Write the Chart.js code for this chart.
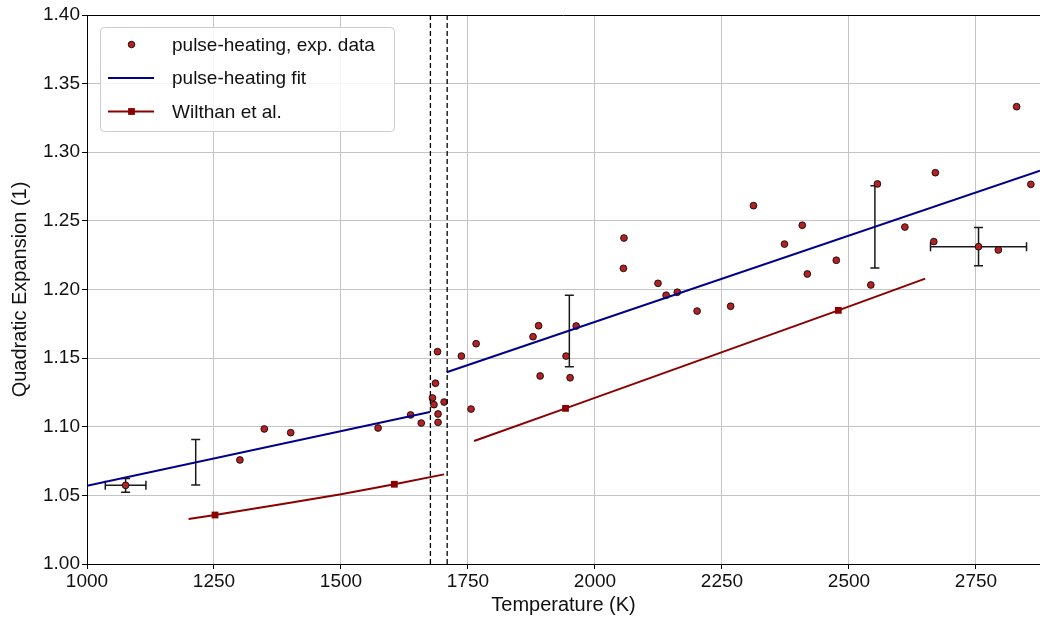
<!DOCTYPE html>
<html>
<head>
<meta charset="utf-8">
<title>Quadratic expansion</title>
<script src="https://cdn.jsdelivr.net/npm/chart.js@4.4.1/dist/chart.umd.min.js"></script>
<style>
html, body { margin: 0; padding: 0; background: #fff; }
#wrap { width: 1040px; height: 619px; }
</style>
</head>
<body>
<div id="wrap"><canvas id="expansionChart" width="1040" height="619"></canvas></div>
<script>
// pulse-heating, experimental points
var expT = [1076, 1301, 1349, 1401, 1573, 1637, 1658, 1680, 1683, 1686, 1690, 1691, 1691, 1703, 1737, 1756, 1766,
            1878, 1889, 1892, 1943, 1951, 1963, 2057, 2056, 2124, 2140, 2162, 2201, 2267, 2312, 2373, 2408, 2418,
            2475, 2543, 2556, 2610, 2667, 2670, 2755, 2794, 2830, 2858];
var expQ = [1.0573, 1.0758, 1.0984, 1.0957, 1.0991, 1.1086, 1.1027, 1.1210, 1.1161, 1.1317, 1.1547, 1.1093, 1.1032,
            1.1180, 1.1515, 1.1129, 1.1605, 1.1656, 1.1736, 1.1370, 1.1515, 1.1357, 1.1734, 1.2375, 1.2154, 1.2045,
            1.1958, 1.1980, 1.1843, 1.1878, 1.2611, 1.2331, 1.2468, 1.2113, 1.2213, 1.2033, 1.2769, 1.2455, 1.2349,
            1.2851, 1.2312, 1.2288, 1.3332, 1.2766];

// uncertainty bars
var errT  = [1076, 1214, 1949.5, 2551, 2755];
var errQ  = [1.0573, 1.0742, 1.1698, 1.2456, 1.2312];
var errDT = [40, 0, 0, 0, 94.5];
var errDQ = [0.005, 0.0166, 0.026, 0.030, 0.0139];

// pulse-heating fit (solid / liquid)
var fitT1 = [1000, 1675];
var fitQ1 = [1.0570, 1.1107];
var fitT2 = [1708, 2876];
var fitQ2 = [1.1397, 1.2866];

// Wilthan et al.
var wilT1 = [1200, 1252, 1300, 1400, 1500, 1605, 1703];
var wilQ1 = [1.0328, 1.0357, 1.0386, 1.0447, 1.0508, 1.0581, 1.0653];
var wilT2 = [1762, 1942, 2479, 2650];
var wilQ2 = [1.0896, 1.1134, 1.1848, 1.2079];
var wilMarkT = [1252, 1605, 1942, 2479];

// solidus / liquidus
var transT = [1676, 1709];

var legendLabels = ['pulse-heating, exp. data', 'pulse-heating fit', 'Wilthan et al.'];

function pts(xs, ys) {
    return xs.map(function (x, i) { return { x: x, y: ys[i] }; });
}

var FONT = '"Liberation Sans", Arial, sans-serif';
var RED = '#b22222', BLUE = '#00008b', DARKRED = '#8b0000';

var errorBarPlugin = {
    id: 'errorBars',
    beforeDatasetsDraw: function (chart) {
        var ctx = chart.ctx, xs = chart.scales.x, ys = chart.scales.y;
        var cap = 4.5;
        ctx.save();
        ctx.strokeStyle = '#1a1a1a';
        ctx.lineWidth = 1.5;
        for (var i = 0; i < errT.length; i++) {
            var px = xs.getPixelForValue(errT[i]);
            var py = ys.getPixelForValue(errQ[i]);
            ctx.beginPath();
            if (errDQ[i] > 0) {
                var y1 = ys.getPixelForValue(errQ[i] + errDQ[i]);
                var y2 = ys.getPixelForValue(errQ[i] - errDQ[i]);
                ctx.moveTo(px, y1); ctx.lineTo(px, y2);
                ctx.moveTo(px - cap, y1); ctx.lineTo(px + cap, y1);
                ctx.moveTo(px - cap, y2); ctx.lineTo(px + cap, y2);
            }
            if (errDT[i] > 0) {
                var x1 = xs.getPixelForValue(errT[i] - errDT[i]);
                var x2 = xs.getPixelForValue(errT[i] + errDT[i]);
                ctx.moveTo(x1, py); ctx.lineTo(x2, py);
                ctx.moveTo(x1, py - cap); ctx.lineTo(x1, py + cap);
                ctx.moveTo(x2, py - cap); ctx.lineTo(x2, py + cap);
            }
            ctx.stroke();
        }
        ctx.restore();
    }
};

var frameLegendPlugin = {
    id: 'frameLegend',
    afterDraw: function (chart) {
        var ctx = chart.ctx, a = chart.chartArea;
        ctx.save();
        // top spine
        ctx.strokeStyle = '#000';
        ctx.lineWidth = 1;
        ctx.beginPath();
        ctx.moveTo(a.left, a.top + 0.5); ctx.lineTo(a.right, a.top + 0.5);
        ctx.stroke();

        // legend box
        var bx = 100.5, by = 27.5, bw = 294, bh = 104, r = 4;
        ctx.beginPath();
        ctx.moveTo(bx + r, by);
        ctx.arcTo(bx + bw, by, bx + bw, by + bh, r);
        ctx.arcTo(bx + bw, by + bh, bx, by + bh, r);
        ctx.arcTo(bx, by + bh, bx, by, r);
        ctx.arcTo(bx, by, bx + bw, by, r);
        ctx.closePath();
        ctx.fillStyle = 'rgba(255,255,255,0.85)';
        ctx.fill();
        ctx.strokeStyle = '#cccccc';
        ctx.stroke();

        var rows = [44.5, 78, 111.5];
        // exp. data marker
        ctx.beginPath();
        ctx.arc(131.5, rows[0], 3.3, 0, Math.PI * 2);
        ctx.fillStyle = RED; ctx.fill();
        ctx.strokeStyle = '#000'; ctx.lineWidth = 0.8; ctx.stroke();
        // fit line
        ctx.lineWidth = 2;
        ctx.strokeStyle = BLUE;
        ctx.beginPath(); ctx.moveTo(108, rows[1]); ctx.lineTo(154, rows[1]); ctx.stroke();
        // Wilthan line + square
        ctx.strokeStyle = DARKRED;
        ctx.beginPath(); ctx.moveTo(108, rows[2]); ctx.lineTo(154, rows[2]); ctx.stroke();
        ctx.fillStyle = DARKRED;
        ctx.fillRect(131.5 - 3.4, rows[2] - 3.4, 6.8, 6.8);

        ctx.fillStyle = '#111';
        ctx.font = '19px ' + FONT;
        ctx.textBaseline = 'middle';
        ctx.textAlign = 'left';
        for (var i = 0; i < legendLabels.length; i++) {
            ctx.fillText(legendLabels[i], 172, rows[i] + 1);
        }
        ctx.restore();
    }
};

var dashStyle = {
    borderColor: '#000', borderWidth: 1.3, borderDash: [5, 3],
    pointRadius: 0, showLine: true, fill: false
};

var ctx1 = document.getElementById('expansionChart').getContext('2d');
var expansionChart = new Chart(ctx1, {
    type: 'scatter',
    data: {
        datasets: [
            Object.assign({ data: pts([transT[0], transT[0]], [1.0, 1.4]) }, dashStyle),
            Object.assign({ data: pts([transT[1], transT[1]], [1.0, 1.4]) }, dashStyle),
            {
                label: legendLabels[2],
                data: pts(wilT1, wilQ1),
                showLine: true,
                borderColor: DARKRED, backgroundColor: DARKRED, borderWidth: 2,
                pointStyle: 'rect',
                pointRadius: function (c) { return wilMarkT.indexOf(c.raw.x) >= 0 ? 4.8 : 0; },
                pointBorderWidth: 0
            },
            {
                data: pts(wilT2, wilQ2),
                showLine: true,
                borderColor: DARKRED, backgroundColor: DARKRED, borderWidth: 2,
                pointStyle: 'rect',
                pointRadius: function (c) { return wilMarkT.indexOf(c.raw.x) >= 0 ? 4.8 : 0; },
                pointBorderWidth: 0
            },
            {
                label: legendLabels[1],
                data: pts(fitT1, fitQ1),
                showLine: true, borderColor: BLUE, borderWidth: 2, pointRadius: 0
            },
            {
                data: pts(fitT2, fitQ2),
                showLine: true, borderColor: BLUE, borderWidth: 2, pointRadius: 0
            },
            {
                label: legendLabels[0],
                data: pts(expT, expQ),
                backgroundColor: RED,
                borderColor: '#000',
                borderWidth: 0.8,
                pointRadius: 3.4
            }
        ]
    },
    options: {
        responsive: false,
        animation: false,
        devicePixelRatio: 1,
        layout: { autoPadding: false, padding: { top: 15, right: 0, bottom: 0, left: 0 } },
        scales: {
            x: {
                type: 'linear',
                min: 1000,
                max: 2876,
                afterFit: function (s) { s.height = 55; s.paddingRight = 0; s.paddingLeft = 0; },
                ticks: {
                    stepSize: 250,
                    includeBounds: false,
                    padding: 1,
                    color: '#111',
                    font: { family: FONT, size: 19 },
                    maxRotation: 0,
                    callback: function (v) { return String(v); }
                },
                grid: { color: '#c4c4c4', lineWidth: 1, tickLength: 5, tickColor: '#000' },
                border: { color: '#000', width: 1 },
                title: {
                    display: true,
                    text: 'Temperature (K)',
                    color: '#111',
                    font: { family: FONT, size: 20 },
                    padding: { top: 0, bottom: 2 }
                }
            },
            y: {
                min: 1.0,
                max: 1.4,
                afterFit: function (s) { s.width = 87; s.paddingTop = 0; s.paddingBottom = 0; },
                ticks: {
                    stepSize: 0.05,
                    padding: 2,
                    color: '#111',
                    font: { family: FONT, size: 19 },
                    callback: function (v) { return v.toFixed(2); }
                },
                grid: { color: '#c4c4c4', lineWidth: 1, tickLength: 5, tickColor: '#000' },
                border: { color: '#000', width: 1 },
                title: {
                    display: true,
                    text: 'Quadratic Expansion (1)',
                    color: '#111',
                    font: { family: FONT, size: 20 },
                    padding: { top: 8, bottom: 0 }
                }
            }
        },
        plugins: {
            legend: { display: false },
            tooltip: { enabled: false }
        }
    },
    plugins: [errorBarPlugin, frameLegendPlugin]
});
</script>
</body>
</html>
